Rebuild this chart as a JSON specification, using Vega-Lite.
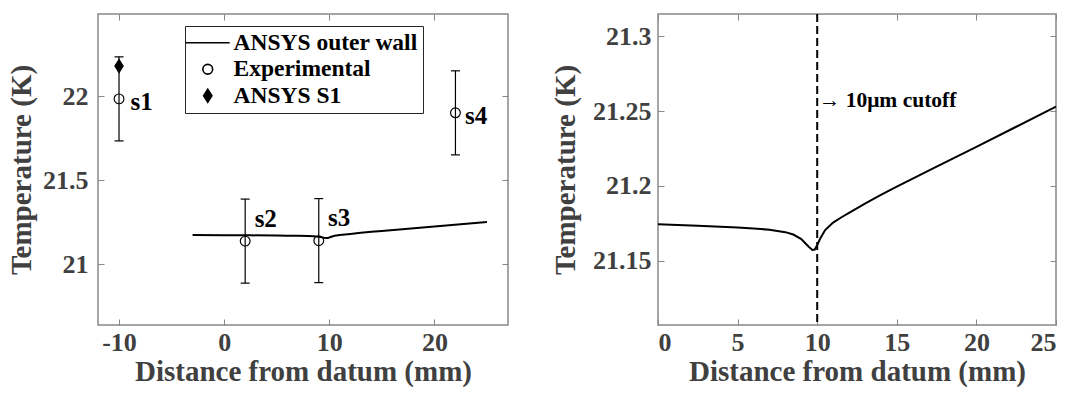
{
  "$schema": "https://vega.github.io/schema/vega-lite/v6.json",
  "background": "white",
  "padding": {"left": 6, "top": 12, "right": 5, "bottom": 5},
  "bounds": "flush",
  "spacing": 150,
  "datasets": {
    "wall": [
      {"x": -3, "y": 21.1755},
      {"x": 0, "y": 21.1744},
      {"x": 2.5, "y": 21.1733},
      {"x": 5, "y": 21.1722},
      {"x": 6, "y": 21.1716},
      {"x": 7, "y": 21.1707},
      {"x": 8, "y": 21.1691},
      {"x": 8.5, "y": 21.1675},
      {"x": 9, "y": 21.1645},
      {"x": 9.3, "y": 21.1612},
      {"x": 9.5, "y": 21.159},
      {"x": 9.7, "y": 21.1572},
      {"x": 9.85, "y": 21.1575},
      {"x": 10.0, "y": 21.1605},
      {"x": 10.2, "y": 21.165},
      {"x": 10.5, "y": 21.1705},
      {"x": 11, "y": 21.1755},
      {"x": 11.5, "y": 21.1789},
      {"x": 12, "y": 21.182},
      {"x": 13, "y": 21.1882},
      {"x": 14, "y": 21.194},
      {"x": 15, "y": 21.1996},
      {"x": 17.5, "y": 21.2129},
      {"x": 20, "y": 21.2262},
      {"x": 22.5, "y": 21.2396},
      {"x": 25, "y": 21.2531}
    ],
    "pts": [
      {"x": -10, "y": 21.985, "lo": 21.735, "hi": 22.235, "series": "Experimental"},
      {"x": 2, "y": 21.139, "lo": 20.889, "hi": 21.389, "series": "Experimental"},
      {"x": 9, "y": 21.142, "lo": 20.892, "hi": 21.392, "series": "Experimental"},
      {"x": 22, "y": 21.902, "lo": 21.652, "hi": 22.152, "series": "Experimental"},
      {"x": -10, "y": 22.18, "lo": null, "hi": null, "series": "ANSYS S1"}
    ],
    "labels": [
      {"x": -8.9, "y": 21.966, "label": "s1"},
      {"x": 2.9, "y": 21.273, "label": "s2"},
      {"x": 9.87, "y": 21.279, "label": "s3"},
      {"x": 22.9, "y": 21.885, "label": "s4"}
    ],
    "cut": [{"x": 10}],
    "note": [{"x": 10.1, "y": 21.2565, "label": "→ 10μm cutoff"}]
  },
  "config": {
    "font": "Liberation Serif",
    "view": {"stroke": "#888888", "strokeWidth": 1.5},
    "axis": {
      "domain": false,
      "grid": false,
      "tickColor": "#888888",
      "tickSize": -6,
      "tickWidth": 1,
      "labelFont": "Liberation Serif",
      "labelFontSize": 26,
      "labelFontWeight": "bold",
      "labelColor": "#404040",
      "titleFont": "Liberation Serif",
      "titleFontSize": 29,
      "titleFontWeight": "bold",
      "titleColor": "#404040"
    }
  },
  "hconcat": [
    {
      "width": 410,
      "height": 311,
      "resolve": {"axis": {"x": "independent", "y": "independent"}},
      "layer": [
        {
          "data": {"name": "wall"},
          "mark": {"type": "line", "color": "black", "strokeWidth": 2},
          "encoding": {
            "x": {"field": "x", "type": "quantitative",
              "scale": {"domain": [-12, 27], "nice": false, "zero": false},
              "axis": {"values": [-10, 0, 10, 20], "labelExpr": "'' + datum.value", "title": "Distance from datum (mm)", "labelPadding": 10, "titlePadding": 2}},
            "y": {"field": "y", "type": "quantitative",
              "scale": {"domain": [20.64, 22.49], "nice": false, "zero": false},
              "axis": {"values": [21, 21.5, 22], "labelExpr": "'' + datum.value", "title": "Temperature (K)", "labelPadding": 16, "titlePadding": 6}}
          }
        },
        {
          "data": {"name": "pts"},
          "transform": [{"filter": "datum.lo != null"}],
          "mark": {"type": "rule", "color": "black", "strokeWidth": 1.2},
          "encoding": {
            "x": {"field": "x", "type": "quantitative", "axis": {"orient": "top", "values": [-10, 0, 10, 20], "labels": false, "title": null}},
            "y": {"field": "lo", "type": "quantitative", "axis": {"orient": "right", "values": [21, 21.5, 22], "labels": false, "title": null}},
            "y2": {"field": "hi"}
          }
        },
        {
          "data": {"name": "pts"},
          "transform": [{"filter": "datum.lo != null"}],
          "mark": {"type": "tick", "orient": "horizontal", "color": "black", "size": 9, "thickness": 1.2, "opacity": 1},
          "encoding": {
            "x": {"field": "x", "type": "quantitative", "axis": null},
            "y": {"field": "hi", "type": "quantitative", "axis": null}
          }
        },
        {
          "data": {"name": "pts"},
          "transform": [{"filter": "datum.lo != null"}],
          "mark": {"type": "tick", "orient": "horizontal", "color": "black", "size": 9, "thickness": 1.2, "opacity": 1},
          "encoding": {
            "x": {"field": "x", "type": "quantitative", "axis": null},
            "y": {"field": "lo", "type": "quantitative", "axis": null}
          }
        },
        {
          "data": {"name": "pts"},
          "mark": {"type": "point", "filled": true, "size": 95, "strokeWidth": 1.2, "opacity": 1},
          "encoding": {
            "x": {"field": "x", "type": "quantitative", "axis": null},
            "y": {"field": "y", "type": "quantitative", "axis": null},
            "fill": {"field": "series", "type": "nominal",
              "scale": {"domain": ["ANSYS outer wall", "Experimental", "ANSYS S1"], "range": ["transparent", "transparent", "black"]},
              "legend": {"title": null}},
            "stroke": {"field": "series", "type": "nominal",
              "scale": {"domain": ["ANSYS outer wall", "Experimental", "ANSYS S1"], "range": ["black", "black", "black"]},
              "legend": {"title": null}},
            "shape": {"field": "series", "type": "nominal",
              "scale": {"domain": ["ANSYS outer wall", "Experimental", "ANSYS S1"], "range": ["M-4.5,0H4.5", "circle", "M0,-1.35L0.85,0L0,1.35L-0.85,0Z"]},
              "legend": {
                "title": null,
                "orient": "none",
                "legendX": 87,
                "legendY": 12,
                "padding": 5,
                "strokeColor": "#262626",
                "fillColor": "white",
                "labelFont": "Liberation Serif",
                "labelFontSize": 23.5,
                "labelFontWeight": "bold",
                "labelColor": "black",
                "labelLimit": 400,
                "symbolSize": 95,
                "symbolStrokeWidth": 1.6,
                "symbolOffset": 6,
                "labelOffset": 14,
                "rowPadding": 1.5
              }}
          }
        },
        {
          "data": {"name": "labels"},
          "mark": {"type": "text", "align": "left", "baseline": "middle", "font": "Liberation Serif", "fontSize": 25, "fontWeight": "bold", "color": "black"},
          "encoding": {
            "x": {"field": "x", "type": "quantitative", "axis": null},
            "y": {"field": "y", "type": "quantitative", "axis": null},
            "text": {"field": "label"}
          }
        }
      ]
    },
    {
      "width": 398,
      "height": 311,
      "resolve": {"axis": {"x": "independent", "y": "independent"}},
      "layer": [
        {
          "data": {"name": "wall"},
          "transform": [{"filter": "datum.x >= 0"}],
          "mark": {"type": "line", "color": "black", "strokeWidth": 2},
          "encoding": {
            "x": {"field": "x", "type": "quantitative",
              "scale": {"domain": [0, 25], "nice": false, "zero": false},
              "axis": {"values": [0, 5, 10, 15, 20, 25], "labelExpr": "'' + datum.value", "title": "Distance from datum (mm)", "labelPadding": 10, "titlePadding": 2}},
            "y": {"field": "y", "type": "quantitative",
              "scale": {"domain": [21.107, 21.315], "nice": false, "zero": false},
              "axis": {"values": [21.15, 21.2, 21.25, 21.3], "labelExpr": "'' + datum.value", "title": "Temperature (K)", "labelPadding": 13, "titlePadding": 12}}
          }
        },
        {
          "data": {"name": "note"},
          "mark": {"type": "text", "align": "left", "baseline": "middle", "font": "Liberation Serif", "fontSize": 21.5, "fontWeight": "bold", "color": "black"},
          "encoding": {
            "x": {"field": "x", "type": "quantitative", "axis": {"orient": "top", "values": [0, 5, 10, 15, 20, 25], "labels": false, "title": null}},
            "y": {"field": "y", "type": "quantitative", "axis": {"orient": "right", "values": [21.15, 21.2, 21.25, 21.3], "labels": false, "title": null}},
            "text": {"field": "label"}
          }
        },
        {
          "data": {"name": "cut"},
          "mark": {"type": "rule", "color": "black", "strokeWidth": 2, "strokeDash": [8, 4]},
          "encoding": {
            "x": {"field": "x", "type": "quantitative", "axis": null}
          }
        }
      ]
    }
  ]
}
